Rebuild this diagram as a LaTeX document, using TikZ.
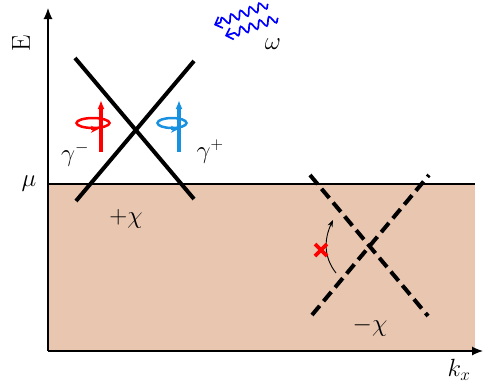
\documentclass[tikz,border=0pt]{standalone}
\usepackage{xcolor}
\usepackage{tikz}
\usetikzlibrary{shapes.geometric, arrows.meta, positioning, decorations.pathmorphing}

\definecolor{fermisea}{RGB}{232,198,176}
\definecolor{spinblue}{RGB}{25,145,225}

\begin{document}
\begin{tikzpicture}[
    x=1pt, y=-1pt,
    every node/.style={font=\fontsize{24}{28}\selectfont},
    axis/.style={-{Latex[length=11pt, width=9pt]}, line width=1.2pt},
    cone/.style={line width=4pt},
    dcone/.style={line width=4pt, dash pattern=on 12pt off 6pt},
    spin/.style={-{Latex[length=9pt, width=7pt]}, line width=3.5pt},
    orbit/.style={ellipse, draw, line width=2.5pt, inner sep=0pt},
    wave/.style={blue, line width=1.7pt, -{Straight Barb[length=6pt, width=12pt]},
                 decorate, decoration={snake, amplitude=4pt, segment length=10pt, post length=6pt}},
]
\useasboundingbox (0,0) rectangle (483,389);

%% --- Filled states below mu ---
\fill[fermisea] (48,184) rectangle (475,351);
\coordinate (muL) at (48,184);
\coordinate (muR) at (475,184);
\draw[line width=1.2pt] (muL) -- (muR);

%% --- Axes ---
\coordinate (org) at (48,351);
\coordinate (ytip) at (48,8);
\coordinate (xtip) at (483,351);
\draw[axis] (org) -- (ytip);
\draw[axis] (org) -- (xtip);
\node[rotate=90, font=\fontsize{26}{30}\selectfont] (elab) at (21,43) {E};
\node (mulab) at (29,184) {$\mu$};
\node (kx) at (459,370) {$k_x$};

%% --- Weyl cone +chi ---
\coordinate (pA) at (75,58);
\coordinate (pB) at (194,199);
\coordinate (pC) at (76,201);
\coordinate (pD) at (194,61);
\draw[cone] (pA) -- (pB);
\draw[cone] (pC) -- (pD);
\node (chip) at (126,219) {$+\chi$};

%% --- Weyl cone -chi (dashed) ---
\coordinate (mA) at (310,175);
\coordinate (mB) at (428,316);
\coordinate (mC) at (312,315);
\coordinate (mD) at (429,175);
\draw[dcone] (mA) -- (mB);
\draw[dcone] (mC) -- (mD);
\node (chim) at (370,327) {$-\chi$};

%% --- Blocked transition ---
\coordinate (tr1) at (336,273);
\coordinate (tr2) at (333,220);
\draw[line width=0.9pt, -{Stealth[length=7pt]}] (tr1) to[out=128, in=245] (tr2);
\coordinate (blk) at (321,250);
\draw[red, line width=3.8pt] ([shift={(-6,-6)}]blk) -- ([shift={(6,6)}]blk)
                             ([shift={(-6,6)}]blk) -- ([shift={(6,-6)}]blk);

%% --- Spins gamma- / gamma+ ---
\node[orbit, red, minimum width=33pt, minimum height=10pt] (orbR) at (93,123) {};
\draw[red, -{Stealth[length=7pt, width=7pt]}, line width=2pt] ([xshift=-2pt]orbR.south) -- ([xshift=5pt]orbR.south);
\coordinate (sRb) at (101,152);
\coordinate (sRt) at (101,100);
\draw[spin, red] (sRb) -- (sRt);
\node (gm) at (75,154) {$\gamma^-$};

\node[orbit, spinblue, minimum width=29pt, minimum height=10pt] (orbB) at (172,123) {};
\draw[spinblue, -{Stealth[length=7pt, width=7pt]}, line width=2pt] ([xshift=-1pt]orbB.south) -- ([xshift=6pt]orbB.south);
\coordinate (sBb) at (179,152);
\coordinate (sBt) at (179,100);
\draw[spin, spinblue] (sBb) -- (sBt);
\node (gp) at (210,152) {$\gamma^+$};

%% --- Photon omega ---
\coordinate (wA1) at (268,4);
\coordinate (wA2) at (214,25);
\coordinate (wB1) at (278,18);
\coordinate (wB2) at (225,36);
\draw[wave] (wA1) -- (wA2);
\draw[wave] (wB1) -- (wB2);
\node (om) at (273,44) {$\omega$};

\end{tikzpicture}
\end{document}
